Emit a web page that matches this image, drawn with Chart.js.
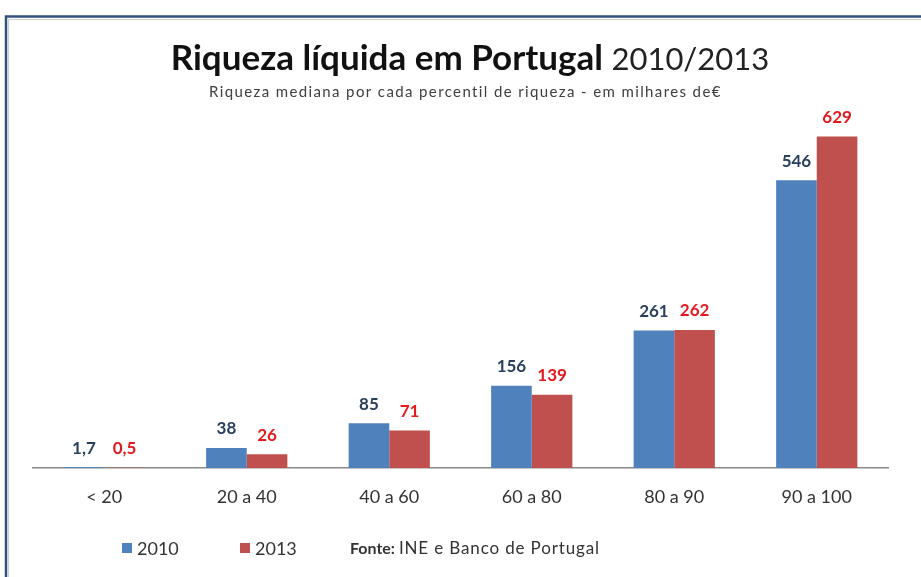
<!DOCTYPE html>
<html>
<head>
<meta charset="utf-8">
<script src="https://cdn.jsdelivr.net/npm/chart.js@4.4.1/dist/chart.umd.min.js"></script>
<style>
  html, body { margin: 0; padding: 0; background: #fff; }
  #wrap { position: relative; width: 921px; height: 577px; }
</style>
</head>
<body>
<div id="wrap"><canvas id="chart" width="921" height="577"></canvas></div>
<script>
// dados (milhares de euros)
const categorias = ['< 20', '20 a 40', '40 a 60', '60 a 80', '80 a 90', '90 a 100'];
const valores2010 = [1.7, 38, 85, 156, 261, 546];
const valores2013 = [0.5, 26, 71, 139, 262, 629];
const rotulos2010 = ['1,7', '38', '85', '156', '261', '546'];
const rotulos2013 = ['0,5', '26', '71', '139', '262', '629'];
const series = ['2010', '2013'];

const AZUL = '#4F81BD', VERMELHO = '#C0504D';
const COR_ROT_2010 = '#283F5E', COR_ROT_2013 = '#E3191E';
const FONTE = 'Lato, "Open Sans", sans-serif';

// texto com espacamento para ocupar a largura dada
function textoLargo(c, txt, x, y, largura) {
    const w = c.measureText(txt).width;
    c.letterSpacing = ((largura - w) / txt.length).toFixed(2) + 'px';
    c.fillText(txt, x, y);
    c.letterSpacing = '0px';
}

// moldura, titulo, rotulos e legenda
const decoracao = {
    id: 'decoracao',
    beforeDraw(chart) {
        const c = chart.ctx;
        c.save();
        c.fillStyle = '#fff';
        c.fillRect(0, 0, chart.width, chart.height);
        c.strokeStyle = '#C8CDD4';
        c.lineWidth = 1;
        c.beginPath();
        c.moveTo(8.5, chart.height); c.lineTo(8.5, 19.5); c.lineTo(chart.width, 19.5);
        c.stroke();
        c.strokeStyle = '#33507E';
        c.lineWidth = 2.5;
        c.beginPath();
        c.moveTo(6, chart.height); c.lineTo(6, 16.5); c.lineTo(chart.width, 16.5);
        c.stroke();

        // titulo
        const t1 = 'Riqueza líquida em Portugal ';
        const t2 = '2010/2013';
        c.textBaseline = 'alphabetic';
        c.fillStyle = '#111';
        c.font = 'bold 35px ' + FONTE;
        const w1 = c.measureText(t1).width;
        c.font = '31px ' + FONTE;
        const w2 = c.measureText(t2).width;
        let x = 470 - (w1 + w2) / 2;
        c.font = 'bold 35px ' + FONTE;
        c.fillText(t1, x, 70);
        c.font = '31px ' + FONTE;
        c.fillStyle = '#222';
        c.fillText(t2, x + w1, 70);

        // subtitulo
        c.font = '15px ' + FONTE;
        c.fillStyle = '#404040';
        textoLargo(c, 'Riqueza mediana por cada percentil de riqueza - em milhares de€', 209, 97, 513);

        // legenda + fonte
        c.textBaseline = 'middle';
        c.font = '18px ' + FONTE;
        c.fillStyle = AZUL; c.fillRect(122, 543, 10, 10);
        c.fillStyle = '#333'; c.fillText(series[0], 137, 549);
        c.fillStyle = VERMELHO; c.fillRect(240, 543, 10, 10);
        c.fillStyle = '#333'; c.fillText(series[1], 255, 549);
        c.font = 'bold 16px ' + FONTE;
        c.fillText('Fonte:', 350, 549);
        const wf = c.measureText('Fonte: ').width;
        c.font = '17px ' + FONTE;
        textoLargo(c, 'INE e Banco de Portugal', 350 + wf, 549, 600 - 350 - wf);
        c.restore();
    },
    afterDatasetsDraw(chart) {
        const c = chart.ctx;
        c.save();
        c.font = 'bold 17px ' + FONTE;
        c.textAlign = 'center';
        c.textBaseline = 'middle';
        const rot = [rotulos2010, rotulos2013];
        const cores = [COR_ROT_2010, COR_ROT_2013];
        chart.data.datasets.forEach((ds, i) => {
            chart.getDatasetMeta(i).data.forEach((bar, j) => {
                c.fillStyle = cores[i];
                c.fillText(rot[i][j], bar.x, bar.y - 19);
            });
        });
        c.restore();
    }
};

new Chart(document.getElementById('chart'), {
    type: 'bar',
    data: {
        labels: categorias,
        datasets: [
            { label: series[0], data: valores2010, backgroundColor: AZUL },
            { label: series[1], data: valores2013, backgroundColor: VERMELHO }
        ]
    },
    options: {
        responsive: false,
        animation: false,
        events: [],
        layout: { padding: { left: 33, right: 33, top: 99, bottom: 0 } },
        datasets: { bar: { categoryPercentage: 0.57, barPercentage: 1 } },
        plugins: { legend: { display: false }, title: { display: false }, tooltip: { enabled: false } },
        scales: {
            x: {
                grid: { display: false, drawTicks: false },
                border: { display: true, color: '#8A8A8A', width: 1.5 },
                ticks: { color: '#333', font: { family: FONTE, size: 18 }, padding: 18 },
                afterFit(scale) { scale.height = 109; }
            },
            y: { display: false, min: 0, max: 700 }
        }
    },
    plugins: [decoracao]
});
</script>
</body>
</html>
